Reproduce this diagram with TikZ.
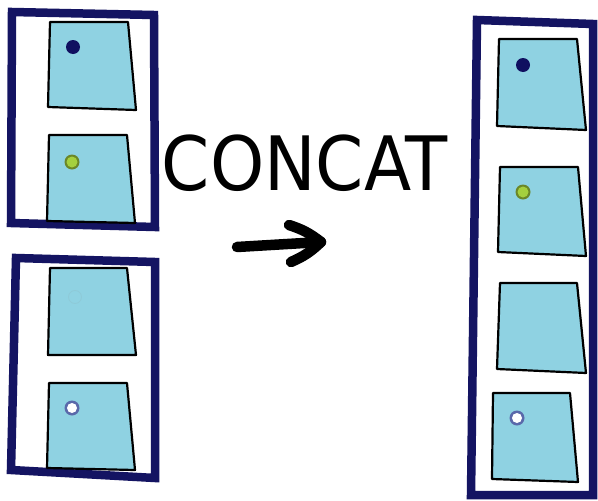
\documentclass[tikz,border=0pt]{standalone}
\usepackage{fontspec}
\newfontfamily\concatfont{DejaVu Sans}
\definecolor{frameblue}{RGB}{20,20,98}
\definecolor{cellfill}{RGB}{143,210,226}
\definecolor{dotnavy}{RGB}{16,16,96}
\definecolor{dotgreen}{RGB}{165,208,62}
\definecolor{ringblue}{RGB}{90,105,170}

\tikzset{
  outerbox/.style={draw=frameblue, line width=8.5pt, line join=miter},
  cell/.style={draw=black, fill=cellfill, line width=2.2pt, line join=round},
  arrowstroke/.style={draw=black, line width=10.5pt, line cap=round, line join=round},
}

\begin{document}
\begin{tikzpicture}[x=1pt, y=-1pt]
\useasboundingbox (0,0) rectangle (598,501);
\fill[white] (0,0) rectangle (598,501);

% left, first pair
\draw[outerbox] (12,12) -- (154,15) -- (155,227) -- (11,223) -- cycle;
\draw[cell] (50,22) -- (128,22) -- (136,110) -- (48,107) -- cycle;
\draw[cell] (49,135) -- (127,135) -- (135,223) -- (47,221) -- cycle;
\fill[dotnavy] (73,47) circle (7);
\fill[dotgreen!65!black] (72,162) circle (7.5);
\fill[dotgreen] (72,162) circle (5.5);

% left, second pair
\draw[outerbox] (16,258) -- (155,262) -- (155,478) -- (11,470) -- cycle;
\draw[cell] (50,268) -- (127,268) -- (136,355) -- (48,355) -- cycle;
\draw[cell] (49,383) -- (127,383) -- (135,470) -- (47,468) -- cycle;
\draw[cellfill!90!gray, line width=0.8pt] (75,297) circle (6.5);
\fill[ringblue] (72,408) circle (7.5);
\fill[white] (72,408) circle (5);

% label and arrow
\node[anchor=base] (concat) at (305,190)
  {\scalebox{0.92}[1]{\concatfont\fontsize{75}{80}\selectfont CONCAT}};
\coordinate (tail) at (237,247);
\coordinate (tip) at (321,242);
\coordinate (wingup) at (289,225);
\coordinate (wingdown) at (291,262);
\draw[arrowstroke] (tail) -- (tip);
\draw[arrowstroke] (wingup) to[bend left=10] (tip) to[bend left=10] (wingdown);

% result
\draw[outerbox] (477,20) -- (593,24) -- (593,495) -- (471,495) -- cycle;
\draw[cell] (499,39) -- (577,39) -- (586,130) -- (497,126) -- cycle;
\draw[cell] (500,167) -- (578,167) -- (586,256) -- (498,252) -- cycle;
\draw[cell] (500,283) -- (577,283) -- (586,373) -- (497,369) -- cycle;
\draw[cell] (493,393) -- (570,393) -- (578,482) -- (492,479) -- cycle;
\fill[dotnavy] (523,65) circle (7);
\fill[dotgreen!65!black] (523,192) circle (7.5);
\fill[dotgreen] (523,192) circle (5.5);
\fill[ringblue] (517,418) circle (7.5);
\fill[white] (517,418) circle (5);
\end{tikzpicture}
\end{document}
